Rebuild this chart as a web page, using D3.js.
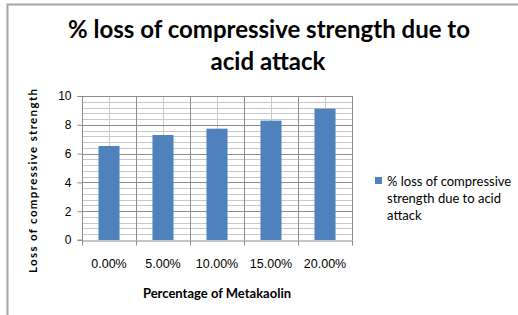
<!DOCTYPE html>
<html>
<head>
<meta charset="utf-8">
<script src="https://cdn.jsdelivr.net/npm/d3@7"></script>
<style>
  body { margin: 0; background: #fff; }
  svg { display: block; font-family: Lato, "Open Sans", sans-serif; }
</style>
</head>
<body>
<div id="chart"></div>
<script>
// data
const categories = ['0.00%', '5.00%', '10.00%', '15.00%', '20.00%']
const lossValues = [6.53, 7.29, 7.73, 8.29, 9.12]
const yTicks = [0, 2, 4, 6, 8, 10]
const seriesName = ['% loss of compressive', 'strength due to acid', 'attack']

const W = 518, H = 315
const margin = { top: 96, left: 82, right: 166, bottom: 75 }
const width = W - margin.left - margin.right
const height = H - margin.top - margin.bottom

const svg = d3.select('#chart')
  .append('svg')
  .attr('width', W)
  .attr('height', H)

// chart frame (only top and left edges show)
svg.append('path')
  .attr('d', `M7.5,${H} V4.5 H${W}`)
  .attr('fill', 'none')
  .attr('stroke', '#a6a6a6')
  .attr('stroke-width', 2)

// title
svg.append('text')
  .attr('x', 269).attr('y', 38)
  .attr('text-anchor', 'middle')
  .style('font-size', '24px').style('font-weight', 'bold')
  .text('% loss of compressive strength due to')
svg.append('text')
  .attr('x', 268).attr('y', 70)
  .attr('text-anchor', 'middle')
  .style('font-size', '24px').style('font-weight', 'bold')
  .text('acid attack')

const g = svg.append('g')
  .attr('transform', `translate(${margin.left},${margin.top})`)

const x = d3.scaleBand()
  .domain(categories)
  .range([0, width])

const y = d3.scaleLinear()
  .domain([0, 10])
  .range([height, 0])

// minor horizontal gridlines every 0.4
g.selectAll('.minor-h')
  .data(d3.range(0, 10.01, 0.4).filter(v => v % 2 > 0.01 && v % 2 < 1.99))
  .enter()
  .append('line')
  .attr('x1', 0).attr('x2', width)
  .attr('y1', d => Math.round(y(d)) + 0.5).attr('y2', d => Math.round(y(d)) + 0.5)
  .attr('stroke', '#c8c8c8')

// minor vertical gridlines at category centres
g.selectAll('.minor-v')
  .data(categories)
  .enter()
  .append('line')
  .attr('x1', d => Math.round(x(d) + x.bandwidth() / 2) + 0.5)
  .attr('x2', d => Math.round(x(d) + x.bandwidth() / 2) + 0.5)
  .attr('y1', 0).attr('y2', height)
  .attr('stroke', '#c8c8c8')

// major horizontal gridlines
g.selectAll('.major-h')
  .data(yTicks.slice(1))
  .enter()
  .append('line')
  .attr('x1', 0).attr('x2', width)
  .attr('y1', d => Math.round(y(d)) + 0.5).attr('y2', d => Math.round(y(d)) + 0.5)
  .attr('stroke', '#8c8c8c')

// major vertical gridlines at category boundaries
g.selectAll('.major-v')
  .data(categories.slice(1).concat(['end']))
  .enter()
  .append('line')
  .attr('x1', (d, i) => Math.round(i < 4 ? x(d) : width) + 0.5)
  .attr('x2', (d, i) => Math.round(i < 4 ? x(d) : width) + 0.5)
  .attr('y1', 0).attr('y2', height)
  .attr('stroke', '#8c8c8c')

// bars
const barW = x.bandwidth() * 0.39
g.selectAll('.bar')
  .data(lossValues)
  .enter()
  .append('rect')
  .attr('class', 'bar')
  .attr('x', (d, i) => x(categories[i]) + (x.bandwidth() - barW) / 2)
  .attr('width', barW)
  .attr('y', d => y(d))
  .attr('height', d => height - y(d))
  .attr('fill', '#4f81bd')

// y axis
const yAxis = g.append('g')
  .attr('transform', 'translate(0.5,0)')
  .call(d3.axisLeft(y).tickValues(yTicks).tickSize(5).tickPadding(6))
yAxis.select('.domain').attr('stroke', '#8c8c8c').attr('d', `M-5,0.5H0V${height}H-5`)
yAxis.selectAll('.tick line').attr('stroke', '#8c8c8c')
yAxis.selectAll('text').style('font-size', '12px').attr('fill', '#000')

// x axis
const xAxis = g.append('g')
  .attr('transform', `translate(0,${height + 0.5})`)
  .call(d3.axisBottom(x).tickSize(0).tickPadding(19))
xAxis.select('.domain').attr('stroke', '#8c8c8c')
xAxis.selectAll('text').style('font-size', '12.5px').attr('fill', '#000')
xAxis.selectAll('.boundary')
  .data(categories.concat(['end']))
  .enter()
  .append('line')
  .attr('x1', (d, i) => Math.round(i < 5 ? x(d) : width) + 0.5)
  .attr('x2', (d, i) => Math.round(i < 5 ? x(d) : width) + 0.5)
  .attr('y1', 0).attr('y2', 5)
  .attr('stroke', '#8c8c8c')

// axis titles
svg.append('text')
  .attr('transform', 'rotate(-90)')
  .attr('x', -181).attr('y', 37)
  .attr('text-anchor', 'middle')
  .attr('textLength', 184)
  .style('font-size', '11.5px').style('font-weight', 'bold')
  .text('Loss of compressive strength')

svg.append('text')
  .attr('x', 217).attr('y', 298)
  .attr('text-anchor', 'middle')
  .style('font-size', '13px').style('font-weight', 'bold')
  .text('Percentage of Metakaolin')

// legend
const legend = svg.append('g').attr('transform', 'translate(375,177)')
legend.append('rect')
  .attr('width', 7).attr('height', 7)
  .attr('fill', '#4f81bd')
legend.selectAll('text')
  .data(seriesName)
  .enter()
  .append('text')
  .attr('x', 12)
  .attr('y', (d, i) => 9 + i * 17)
  .style('font-size', '13px')
  .text(d => d)
</script>
</body>
</html>
